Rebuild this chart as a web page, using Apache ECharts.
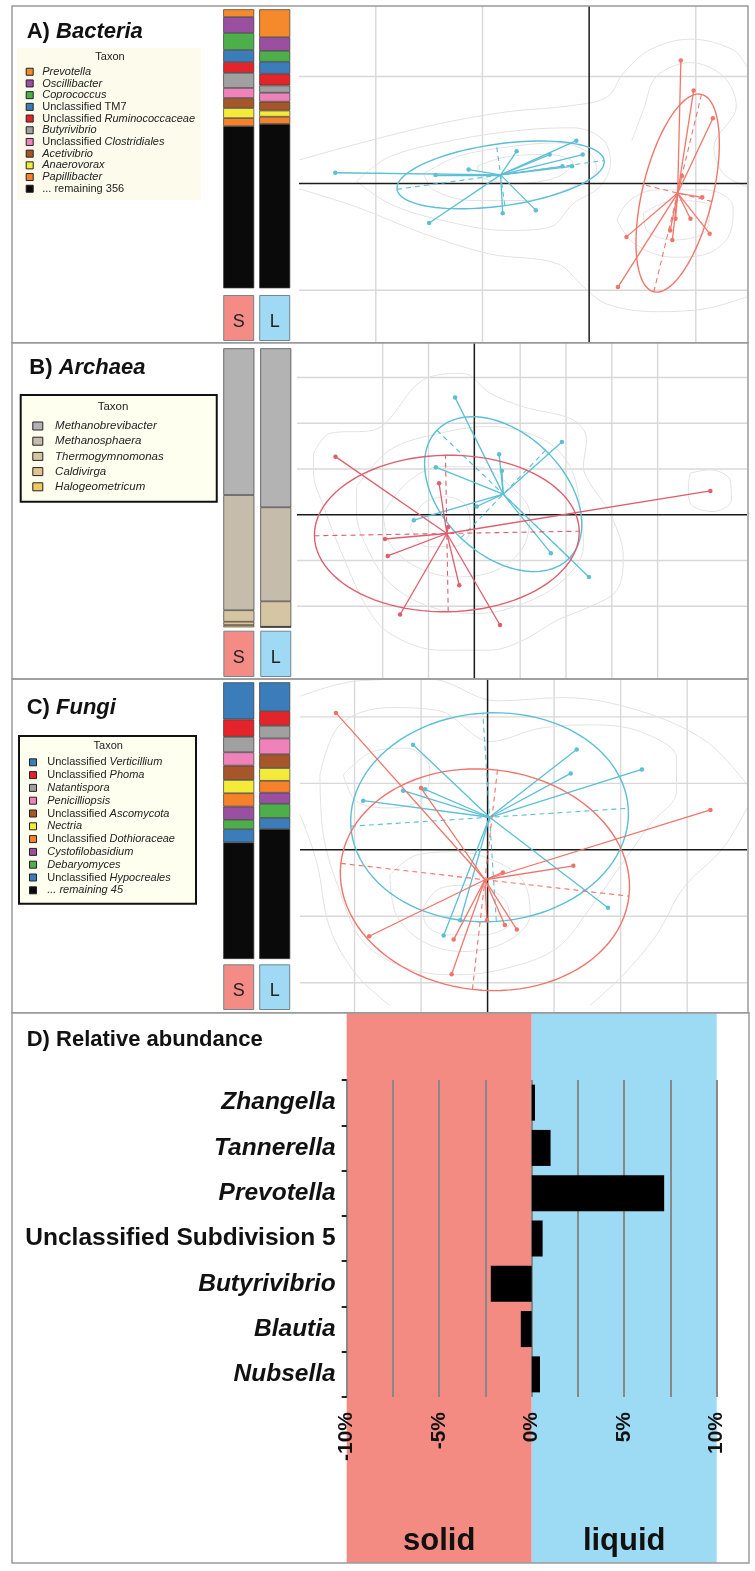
<!DOCTYPE html>
<html>
<head>
<meta charset="utf-8">
<script src="https://cdn.jsdelivr.net/npm/echarts@6/dist/echarts.min.js"></script>
<style>html,body{margin:0;padding:0;background:#fff}#c{width:755px;height:1571px}</style>
</head>
<body>
<div id="c"></div>
<script>
// ---------- DATA ----------
const groups = ['S', 'L'];
const groupColors = ['#F48B84', '#9FD9F3'];

// Panel A: Bacteria composition (% per group, top to bottom)
const aTaxa = ['Prevotella','Oscillibacter','Coprococcus','Unclassified TM7','Unclassified Ruminococcaceae','Butyrivibrio','Unclassified Clostridiales','Acetivibrio','Anaerovorax','Papillibacter','... remaining 356'];
const aSolid  = [2.8,5.7,6.1,4.3,3.9,5.4,3.6,3.6,3.6,2.9,58.1];
const aLiquid = [10.0,4.9,3.9,4.3,4.2,2.6,3.2,3.2,2.2,2.6,58.9];
const aColors = ['#F58A2C','#9A4FA1','#4DAF4A','#3A7DBA','#E3242B','#A0A0A0','#F082BA','#A65628','#F3EA3A','#F5822A','#0A0A0A'];

// Panel B: Archaea composition
const bTaxa = ['Methanobrevibacter','Methanosphaera','Thermogymnomonas','Caldivirga','Halogeometricum'];
const bSolid  = [52.6,41.3,4.1,1.2,0.8];
const bLiquid = [57.0,33.7,9.1,0.1,0.1];
const bColors = ['#B3B3B3','#C5BCAC','#D6C5A3','#E4C48E','#F1C860'];

// Panel C: Fungi composition
const cTaxa = ['Unclassified Verticillium','Unclassified Phoma','Natantispora','Penicilliopsis','Unclassified Ascomycota','Nectria','Unclassified Dothioraceae','Cystofilobasidium','Debaryomyces','Unclassified Hypocreales','... remaining 45'];
const cSolid  = [13.4,6.3,5.6,4.8,5.2,4.8,4.8,4.8,3.4,4.8,42.1];
const cLiquid = [10.4,5.3,4.6,5.7,5.0,4.6,4.3,4.0,5.1,4.0,47.0];
const cColors = ['#3A7DBA','#E3242B','#A0A0A0','#F082BA','#A65628','#F3EA3A','#F5822A','#9A4FA1','#4DAF4A','#3A7DBA','#0A0A0A'];

// Ordination panels: centroids, sample points, ellipses [semi-major, semi-minor, angle deg]
const aLiqCent = [-0.83, 0.08];
const aLiqPts = [[-2.38,0.10],[-1.44,0.08],[-1.13,0.13],[-0.68,0.30],[-0.37,0.27],[-0.12,0.40],[-0.06,0.27],[-0.16,0.16],[-0.25,0.16],[-0.50,-0.25],[-0.81,-0.28],[-1.50,-0.37]];
const aLiqEll = [0.98, 0.29, 7.9];
const aSolCent = [0.83, -0.09];
const aSolPts = [[0.86,1.15],[0.98,0.87],[1.16,0.61],[0.87,0.07],[1.06,-0.13],[1.13,-0.47],[0.95,-0.33],[0.81,-0.33],[0.76,-0.44],[0.78,-0.53],[0.35,-0.50],[0.27,-0.97]];
const aSolEll = [0.95, 0.33, 76.4];

const bLiqCent = [0.63, 0.45];
const bLiqPts = [[-0.42,2.56],[0.54,1.32],[0.60,0.96],[-0.84,1.04],[1.91,1.59],[-1.32,-0.12],[1.67,-0.84],[2.50,-1.36],[0.05,0.18]];
const bLiqEll = [2.01, 1.33, -44];
const bSolCent = [-0.60, -0.41];
const bSolPts = [[-3.03,1.27],[5.15,0.52],[-1.95,-0.53],[-1.89,-0.90],[-1.62,-2.18],[-0.33,-1.54],[0.56,-2.41],[-0.77,0.69],[-0.57,-0.27]];
const bSolEll = [2.89, 1.71, 1];

const cLiqCent = [0.03, 0.49];
const cLiqPts = [[-1.12,1.58],[1.34,1.51],[1.25,1.15],[2.32,1.21],[-1.87,0.74],[-1.27,0.89],[-0.94,0.91],[1.81,-0.87],[-0.66,-1.29],[-0.41,-1.06]];
const cLiqEll = [2.09, 1.57, 3.7];
const cSolCent = [-0.04, -0.45];
const cSolPts = [[-2.28,2.06],[-1.00,0.93],[3.35,0.60],[1.29,-0.24],[-1.78,-1.30],[-0.51,-1.35],[-0.54,-1.87],[-0.01,-1.06],[0.26,-1.13],[0.44,-1.20],[0.23,-0.34]];
const cSolEll = [2.18, 1.66, -6.5];

// axis ranges and grid-line positions of the ordination panels
const aRangeX = [-2.72, 1.48], aRangeY = [-1.49, 1.66];
const bRangeX = [-3.87, 5.95], bRangeY = [-3.59, 3.76];
const cRangeX = [-2.82, 3.90], cRangeY = [-2.45, 2.57];
const aGridX = [-2,-1,1], aGridY = [-1,1];
const bGridX = [-2,-1,1,2,3,4], bGridY = [-2,-1,1,2,3];
const cGridX = [-2,-1,1,2,3], cGridY = [-2,-1,1,2];

// density contours
const aContours = [
  [[-2.72,0.22],[-2.02,0.41],[-1.40,0.56],[-0.77,0.67],[-0.15,0.73],[0.17,0.81],[0.32,1.03],[0.57,1.25],[0.95,1.35],[1.35,1.25],[1.48,1.09]],
  [[-2.72,-0.05],[-2.18,-0.22],[-1.55,-0.47],[-0.93,-0.66],[-0.30,-0.75],[-0.05,-0.97],[0.17,-1.13],[0.63,-1.20],[1.10,-1.17],[1.48,-1.06]],
  [[-2.18,0.02],[-1.87,0.25],[-1.24,0.41],[-0.62,0.50],[-0.15,0.52],[0.13,0.41],[0.20,0.19],[0.10,-0.03],[-0.15,-0.19],[-0.37,-0.41],[-0.77,-0.44],[-1.40,-0.34],[-1.87,-0.19],[-2.18,0.02]],
  [[-1.55,0.09],[-1.24,0.25],[-0.77,0.34],[-0.30,0.38],[0.01,0.28],[0.07,0.13],[-0.15,-0.03],[-0.62,-0.16],[-1.08,-0.16],[-1.46,-0.06],[-1.55,0.09]],
  [[-1.05,0.16],[-0.77,0.25],[-0.37,0.27],[-0.15,0.19],[-0.30,0.06],[-0.68,0.00],[-0.99,0.05],[-1.05,0.16]],
  [[0.26,-0.34],[0.38,-0.16],[0.63,-0.06],[1.10,-0.06],[1.35,-0.22],[1.32,-0.47],[1.10,-0.66],[0.79,-0.69],[0.42,-0.56],[0.26,-0.34]],
  [[0.51,-0.28],[0.79,-0.16],[1.13,-0.22],[1.10,-0.44],[0.79,-0.53],[0.54,-0.44],[0.51,-0.28]],
  [[1.48,-0.03],[1.26,0.09],[1.17,0.34],[1.38,0.72],[1.26,1.00],[0.95,1.13],[0.63,1.00],[0.51,0.69],[0.40,0.40]]
];
const bContours = [
  [[-3.51,1.34],[-3.15,1.78],[-2.20,1.85],[-1.11,2.95],[-0.24,3.09],[0.34,2.66],[1.07,2.36],[2.16,2.07],[2.45,1.64],[2.38,1.05],[2.52,0.69],[2.96,0.03],[3.25,-0.92],[3.11,-1.65],[2.52,-2.01],[1.80,-2.31],[1.07,-2.74],[0.34,-2.96],[-0.75,-2.96],[-1.84,-2.60],[-2.35,-2.01],[-2.86,-0.92],[-3.29,0.18],[-3.51,0.91],[-3.51,1.34]],
  [[-2.57,0.61],[-1.84,1.42],[-0.75,1.78],[0.34,1.93],[1.51,1.64],[2.09,1.05],[2.31,0.18],[2.38,-0.70],[1.94,-1.43],[1.07,-1.94],[0.05,-2.16],[-0.97,-2.01],[-1.84,-1.50],[-2.35,-0.70],[-2.57,0.03],[-2.57,0.61]],
  [[-1.99,0.03],[-1.48,0.69],[-0.75,1.05],[0.05,1.05],[0.71,0.69],[1.21,0.03],[1.07,-0.70],[0.49,-1.21],[-0.39,-1.36],[-1.26,-1.14],[-1.84,-0.63],[-1.99,0.03]],
  [[-1.40,-0.26],[-1.11,0.25],[-0.60,0.39],[-0.17,0.18],[-0.09,-0.34],[-0.46,-0.70],[-1.04,-0.70],[-1.40,-0.26]],
  [[4.71,0.91],[5.14,0.98],[5.58,0.76],[5.61,0.32],[5.21,0.07],[4.71,0.25],[4.67,0.61],[4.71,0.91]]
];
const cContours = [
  [[-2.82,2.31],[-1.97,2.54],[-0.87,2.57],[0.14,2.24],[1.14,2.29],[2.29,2.09],[3.29,1.63],[3.90,0.98]],
  [[3.90,0.63],[3.54,0.03],[2.94,-0.58],[2.54,-1.28],[2.04,-1.88],[1.54,-2.34]],
  [[-2.82,0.53],[-2.57,-0.18],[-2.37,-1.18],[-1.97,-1.88],[-1.47,-2.34]],
  [[-2.52,1.13],[-2.22,1.88],[-1.47,2.14],[-0.72,2.09],[0.04,1.63],[0.79,1.83],[1.54,1.88],[2.29,1.78],[2.84,1.38],[2.84,0.88],[2.44,0.38],[2.04,-0.18],[1.54,-0.88],[1.04,-1.48],[0.29,-1.78],[-0.47,-1.88],[-1.22,-1.78],[-1.87,-1.38],[-2.22,-0.63],[-2.47,0.23],[-2.52,1.13]],
  [[-1.47,-0.38],[-1.07,-0.08],[-0.47,-0.03],[0.14,-0.18],[0.54,-0.48],[0.64,-0.98],[0.29,-1.38],[-0.37,-1.53],[-0.97,-1.38],[-1.37,-0.98],[-1.47,-0.38]],
  [[-0.97,-0.88],[-0.72,-0.58],[-0.22,-0.53],[0.24,-0.73],[0.34,-1.08],[-0.07,-1.28],[-0.62,-1.28],[-0.92,-1.13],[-0.97,-0.88]],
  [[-2.17,1.13],[-1.72,1.48],[-1.22,1.53],[-0.87,1.23],[-0.97,0.78],[-1.47,0.63],[-1.97,0.73],[-2.17,1.13]]
];

// Panel D: relative abundance difference (%)
const dCats = ['Zhangella','Tannerella','Prevotella','Unclassified Subdivision 5','Butyrivibrio','Blautia','Nubsella'];
const dVals = [0.18, 1.02, 7.16, 0.59, -2.21, -0.59, 0.45];
const dSides = ['solid', 'liquid'];
const dSideRanges = [[-10, 0], [0, 10]];
const dSideColors = ['#F38B83', '#9DDAF3'];

// ---------- STYLE HELPERS ----------
const FF = "'Liberation Sans', Arial, Helvetica, sans-serif";
const CYAN = '#5BBFD5';
const REDA = '#F0776C', REDB = '#DE5F6E', REDC = '#EF746A';

function fmtTaxon(name) {
  if (name === 'Unclassified TM7' || name === '... remaining 356') return '{n|' + name + '}';
  if (name.indexOf('Unclassified ') === 0) return '{n|Unclassified }{i|' + name.slice(13) + '}';
  return '{i|' + name + '}';
}
function legendCfg(names, left, top, pad, iw, ih, fs, lh, tpad, bg, bw) {
  return {
    data: names, orient: 'vertical', left: left, top: top, padding: pad,
    itemWidth: iw, itemHeight: ih, itemGap: 0, icon: 'rect', selectedMode: false,
    backgroundColor: bg, borderColor: '#111', borderWidth: bw,
    itemStyle: { borderColor: '#222', borderWidth: 1 },
    formatter: fmtTaxon,
    textStyle: {
      fontFamily: FF, fontSize: fs, lineHeight: lh, color: '#222', padding: [0, 0, 0, tpad],
      rich: {
        n: { fontFamily: FF, fontSize: fs, lineHeight: lh, color: '#222' },
        i: { fontFamily: FF, fontSize: fs, lineHeight: lh, color: '#222', fontStyle: 'italic' }
      }
    }
  };
}
function stackSeries(taxa, sv, lv, colors, gi, st) {
  return taxa.map((t, i) => ({
    type: 'bar', name: t, stack: st, xAxisIndex: gi, yAxisIndex: gi, barWidth: 31,
    data: [sv[i], lv[i]], silent: true,
    itemStyle: { color: colors[i], borderColor: '#3a3a3a', borderWidth: 0.7 }
  }));
}
function groupBoxSeries(gi) {
  return {
    type: 'bar', xAxisIndex: gi, yAxisIndex: gi, barWidth: 31, silent: true,
    data: groups.map((g, i) => ({ value: 1, itemStyle: { color: groupColors[i] } })),
    itemStyle: { borderColor: '#6f8790', borderWidth: 1 },
    label: { show: true, position: 'inside', offset: [0, 4], formatter: '{b}', fontFamily: FF, fontSize: 18, color: '#222' }
  };
}
function refLines(gi, gx, gy, rx, ry, zero) {
  let data;
  if (zero) data = [[0, 0, 0], [0, 0, 1]];
  else data = gx.map(v => [v, 0, 0]).concat(gy.map(v => [0, v, 1]));
  return {
    type: 'custom', xAxisIndex: gi, yAxisIndex: gi, z: zero ? 2 : 1, silent: true, data: data,
    renderItem: function (p, api) {
      const vert = api.value(2) === 0;
      const p1 = vert ? api.coord([api.value(0), ry[0]]) : api.coord([rx[0], api.value(1)]);
      const p2 = vert ? api.coord([api.value(0), ry[1]]) : api.coord([rx[1], api.value(1)]);
      return { type: 'line', shape: { x1: p1[0], y1: p1[1], x2: p2[0], y2: p2[1] },
        style: { stroke: zero ? '#1a1a1a' : '#d8d8d8', lineWidth: zero ? 1.5 : 1.4 } };
    }
  };
}
function contourSeries(list, gi) {
  return list.map(c => ({
    type: 'line', xAxisIndex: gi, yAxisIndex: gi, data: c, symbol: 'none', smooth: 0.35,
    silent: true, z: 1, lineStyle: { color: '#e2e2e2', width: 1 }
  }));
}
function ellipseSeries(gi, cent, ell, color) {
  return {
    type: 'custom', xAxisIndex: gi, yAxisIndex: gi, z: 3, silent: true,
    data: [[cent[0], cent[1], ell[0], ell[1], ell[2]]],
    renderItem: function (params, api) {
      const cx = api.value(0), cy = api.value(1), a = api.value(2), b = api.value(3);
      const t0 = api.value(4) * Math.PI / 180;
      const ux = Math.cos(t0), uy = Math.sin(t0), vx = -uy, vy = ux;
      const P = (s, t) => api.coord([cx + s * ux + t * vx, cy + s * uy + t * vy]);
      const pts = [];
      for (let k = 0; k <= 96; k++) { const th = 2 * Math.PI * k / 96; pts.push(P(a * Math.cos(th), b * Math.sin(th))); }
      const A1 = P(-a, 0), A2 = P(a, 0), B1 = P(0, -b), B2 = P(0, b);
      return { type: 'group', children: [
        { type: 'polyline', shape: { points: pts }, style: { fill: 'none', stroke: color, lineWidth: 1.4 } },
        { type: 'line', shape: { x1: A1[0], y1: A1[1], x2: A2[0], y2: A2[1] }, style: { stroke: color, lineWidth: 1.1, lineDash: [5, 4] } },
        { type: 'line', shape: { x1: B1[0], y1: B1[1], x2: B2[0], y2: B2[1] }, style: { stroke: color, lineWidth: 1.1, lineDash: [5, 4] } }
      ] };
    }
  };
}
function spokeSeries(gi, cent, pts, color) {
  return {
    type: 'lines', coordinateSystem: 'cartesian2d', xAxisIndex: gi, yAxisIndex: gi, z: 3, silent: true,
    data: pts.map(p => ({ coords: [cent, p] })),
    lineStyle: { color: color, width: 1.3, opacity: 1, curveness: 0 }
  };
}
function pointSeries(gi, pts, color) {
  return { type: 'scatter', xAxisIndex: gi, yAxisIndex: gi, z: 4, silent: true, data: pts, symbolSize: 4.5,
    itemStyle: { color: color, opacity: 1 } };
}
function ordination(gi, rx, ry, gx, gy, contours, lc, lp, le, sc, sp, se, red) {
  return [refLines(gi, gx, gy, rx, ry, false)]
    .concat(contourSeries(contours, gi))
    .concat([refLines(gi, gx, gy, rx, ry, true),
      ellipseSeries(gi, lc, le, CYAN), spokeSeries(gi, lc, lp, CYAN), pointSeries(gi, lp, CYAN),
      ellipseSeries(gi, sc, se, red), spokeSeries(gi, sc, sp, red), pointSeries(gi, sp, red)]);
}
const hCat = (gi, d) => ({ type: 'category', gridIndex: gi, data: d, show: false });
const hVal = (gi, r, inv) => ({ type: 'value', gridIndex: gi, min: r[0], max: r[1], inverse: !!inv, show: false });
const G = (l, t, w, h) => ({ left: l, top: t, width: w, height: h, outerBoundsMode: 'none', containLabel: false });

const titleRich = (fs) => ({
  n: { fontFamily: FF, fontSize: fs, fontWeight: 'bold', fill: '#111', color: '#111' },
  i: { fontFamily: FF, fontSize: fs, fontWeight: 'bold', fontStyle: 'italic', fill: '#111', color: '#111' }
});
function label(x, y, text, fs, align) {
  return { type: 'text', x: x, y: y, z: 100, silent: true,
    style: { text: text, rich: titleRich(fs), fill: '#111', align: align || 'left', verticalAlign: 'middle',
      textAlign: align || 'left', textVerticalAlign: 'middle', fontFamily: FF, fontSize: fs, fontWeight: 'bold' } };
}
function taxonTitle(x, y, fs) {
  return { type: 'text', x: x, y: y, z: 100, silent: true,
    style: { text: 'Taxon', fill: '#222', align: 'center', verticalAlign: 'middle', textAlign: 'center', textVerticalAlign: 'middle', fontFamily: FF, fontSize: fs } };
}
function panelRect(x, y, w, h) {
  return { type: 'rect', z: 100, silent: true, shape: { x: x, y: y, width: w, height: h },
    style: { fill: 'none', stroke: '#9a9a9a', lineWidth: 1.5 } };
}

// ---------- OPTION ----------
const option = {
  animation: false,
  grid: [
    G(220.7, 9.3, 72, 279), G(220.7, 295, 72, 46), G(299, 6, 448, 336.7),
    G(220.4, 348.3, 73.8, 279), G(220.4, 630.7, 73.8, 46.3), G(297, 342.7, 450, 336.3),
    G(220.7, 682.3, 72, 276.7), G(220.7, 964.3, 72, 45.7), G(300, 679, 447, 333.7),
    G(346.7, 1013, 370, 550), G(346.7, 1080, 370, 317)
  ],
  xAxis: [
    hCat(0, groups), hCat(1, groups), hVal(2, aRangeX),
    hCat(3, groups), hCat(4, groups), hVal(5, bRangeX),
    hCat(6, groups), hCat(7, groups), hVal(8, cRangeX),
    hVal(9, [-10, 10]),
    { type: 'value', gridIndex: 10, min: -10, max: 10, interval: 2.5, z: 1,
      axisLine: { show: false, onZero: false }, axisTick: { show: false },
      splitLine: { show: true, lineStyle: { color: '#888', width: 2 } },
      axisLabel: { rotate: 90, margin: 15, fontFamily: FF, fontSize: 21, fontWeight: 'bold', color: '#111',
        showMinLabel: true, showMaxLabel: true, hideOverlap: false,
        formatter: v => (Math.abs(v % 5) < 1e-9 ? v + '%' : '') } }
  ],
  yAxis: [
    hVal(0, [0, 100], true), hVal(1, [0, 1]), hVal(2, aRangeY),
    hVal(3, [0, 100], true), hVal(4, [0, 1]), hVal(5, bRangeY),
    hVal(6, [0, 100], true), hVal(7, [0, 1]), hVal(8, cRangeY),
    hVal(9, [0, 1]),
    { type: 'category', gridIndex: 10, data: dCats, inverse: true, z: 1, position: 'left',
      axisLine: { show: true, onZero: false, lineStyle: { color: '#888', width: 2 } },
      axisTick: { show: true, length: 5, lineStyle: { color: '#222', width: 2 } },
      splitLine: { show: false },
      axisLabel: { margin: 11,
        formatter: v => (v.indexOf('Unclassified') === 0 ? '{n|' + v + '}' : '{i|' + v + '}'),
        rich: {
          n: { fontFamily: FF, fontSize: 24.5, fontWeight: 'bold', color: '#111' },
          i: { fontFamily: FF, fontSize: 24.5, fontWeight: 'bold', fontStyle: 'italic', color: '#111' }
        } } }
  ],
  legend: [
    legendCfg(aTaxa, 17, 48, [17.9, 6, 5.5, 8.7], 7, 7, 11, 11.7, 4, '#fcfbec', 0),
    legendCfg(bTaxa, 20.7, 395, [23.4, 53, 7.3, 11.6], 10, 8, 11.5, 15.2, 7.3, '#FFFFF0', 2),
    legendCfg(cTaxa, 19, 736, [19.9, 21, 7, 10], 7, 7, 11, 12.8, 5.7, '#FFFFF0', 2)
  ],
  graphic: { elements: [
    panelRect(12, 6, 736, 336.7), panelRect(12, 342.7, 736, 336.3),
    panelRect(12, 679, 736, 333.7), panelRect(12, 1012.7, 737, 550.3),
    label(26.7, 31.7, '{n|A) }{i|Bacteria}', 22),
    label(29.3, 368.3, '{n|B) }{i|Archaea}', 22),
    label(26.7, 708.3, '{n|C) }{i|Fungi}', 22),
    label(26.7, 1040, '{n|D) Relative abundance}', 22),
    taxonTitle(110, 57, 11), taxonTitle(113, 406.7, 11.5), taxonTitle(108.3, 745.7, 11)
  ] },
  series: []
    .concat(stackSeries(aTaxa, aSolid, aLiquid, aColors, 0, 'a'))
    .concat([groupBoxSeries(1)])
    .concat(ordination(2, aRangeX, aRangeY, aGridX, aGridY, aContours, aLiqCent, aLiqPts, aLiqEll, aSolCent, aSolPts, aSolEll, REDA))
    .concat(stackSeries(bTaxa, bSolid, bLiquid, bColors, 3, 'b'))
    .concat([groupBoxSeries(4)])
    .concat(ordination(5, bRangeX, bRangeY, bGridX, bGridY, bContours, bLiqCent, bLiqPts, bLiqEll, bSolCent, bSolPts, bSolEll, REDB))
    .concat(stackSeries(cTaxa, cSolid, cLiquid, cColors, 6, 'c'))
    .concat([groupBoxSeries(7)])
    .concat(ordination(8, cRangeX, cRangeY, cGridX, cGridY, cContours, cLiqCent, cLiqPts, cLiqEll, cSolCent, cSolPts, cSolEll, REDC))
    .concat([
      { type: 'custom', xAxisIndex: 9, yAxisIndex: 9, z: 0, silent: true, data: dSideRanges,
        renderItem: function (params, api) {
          const i = params.dataIndex;
          const p0 = api.coord([api.value(0), 1]), p1 = api.coord([api.value(1), 0]);
          return { type: 'group', children: [
            { type: 'rect', shape: { x: p0[0], y: p0[1], width: p1[0] - p0[0], height: p1[1] - p0[1] }, style: { fill: dSideColors[i] } },
            { type: 'text', style: { text: dSides[i], x: (p0[0] + p1[0]) / 2, y: p1[1] - 22, align: 'center', verticalAlign: 'middle',
                textAlign: 'center', textVerticalAlign: 'middle', fontFamily: FF, fontSize: 31, fontWeight: 'bold', fill: '#111' } }
          ] };
        } },
      { type: 'bar', xAxisIndex: 10, yAxisIndex: 10, z: 3, silent: true, data: dVals, barWidth: 36,
        itemStyle: { color: '#000' } }
    ])
};

const chart = echarts.init(document.getElementById('c'), null, { renderer: 'canvas', width: 755, height: 1571 });
chart.setOption(option);
</script>
</body>
</html>
